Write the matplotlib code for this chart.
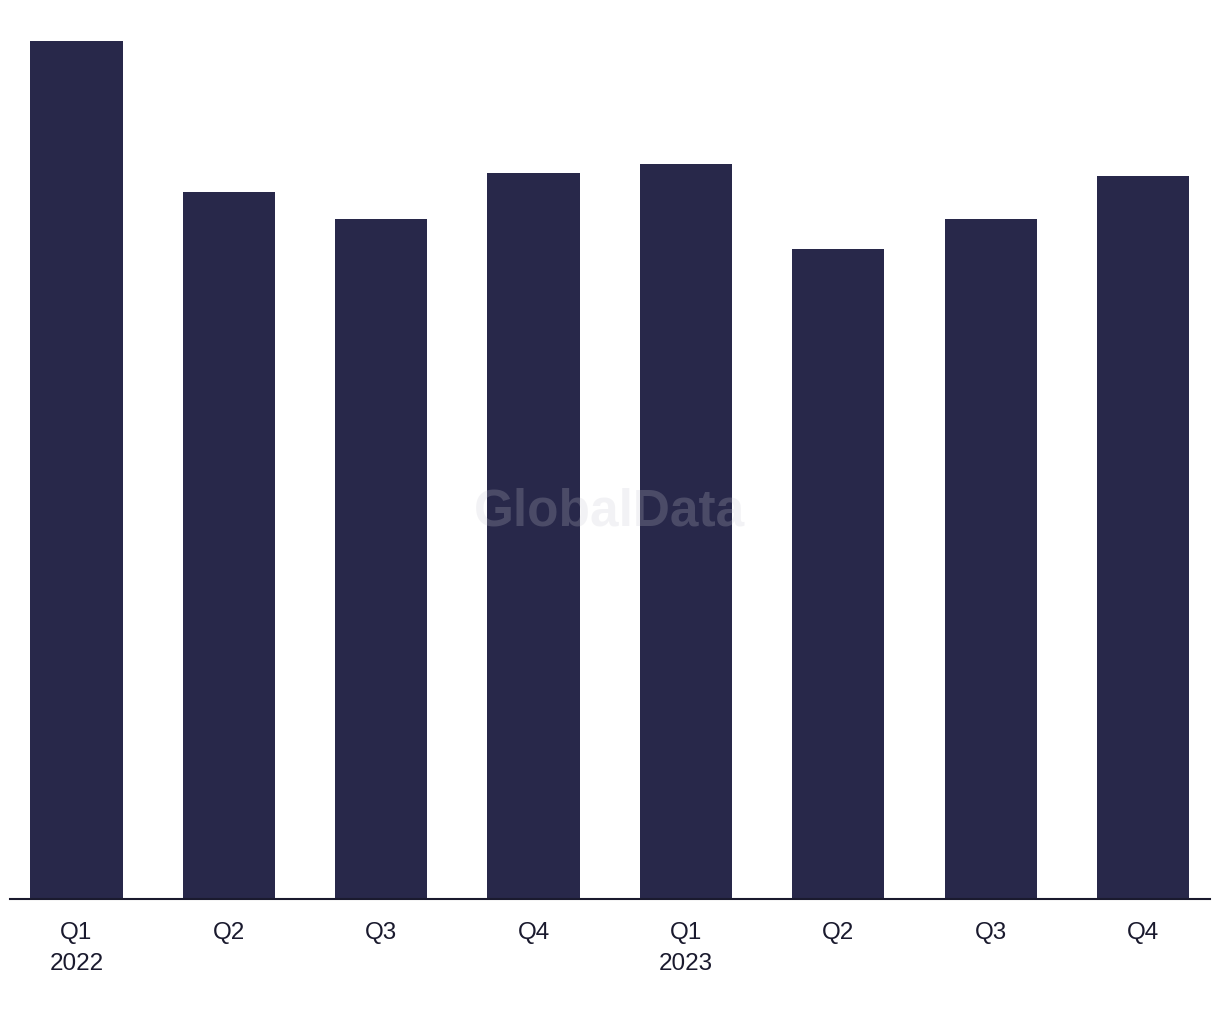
import matplotlib.pyplot as plt

# Dati (scala arbitraria)
quarters = ["Q1\n2022", "Q2", "Q3", "Q4", "Q1\n2023", "Q2", "Q3", "Q4"]
values = [858, 707, 680, 726, 735, 650, 680, 723]

plt.rcParams['font.family'] = ['Liberation Sans', 'DejaVu Sans']

fig = plt.figure(figsize=(12.2, 10.2), dpi=100)
ax = fig.add_axes([10 / 1220, 1 - 900 / 1020, 1200 / 1220, 880 / 1020])

x = range(len(values))
ax.bar(x, values, width=0.605, color='#28284a', zorder=2)

ax.set_xlim(-0.436, 7.44)
ax.set_ylim(0, 880)

ax.set_xticks(list(x))
ax.set_xticklabels(quarters, fontsize=17.5, color='#1a1a2e', linespacing=1.5)
ax.tick_params(axis='x', length=0, pad=16)
ax.set_yticks([])

for side in ["top", "right", "left"]:
    ax.spines[side].set_visible(False)
ax.spines["bottom"].set_color('#1a1a2e')
ax.spines["bottom"].set_linewidth(1.5)

# Watermark
fig.text(0.5, 1 - 512 / 1020, "GlobalData", fontsize=37, fontweight='bold',
         color='#c8c8d2', alpha=0.22, ha='center', va='center', zorder=5)

plt.savefig("out.png", dpi=100)
